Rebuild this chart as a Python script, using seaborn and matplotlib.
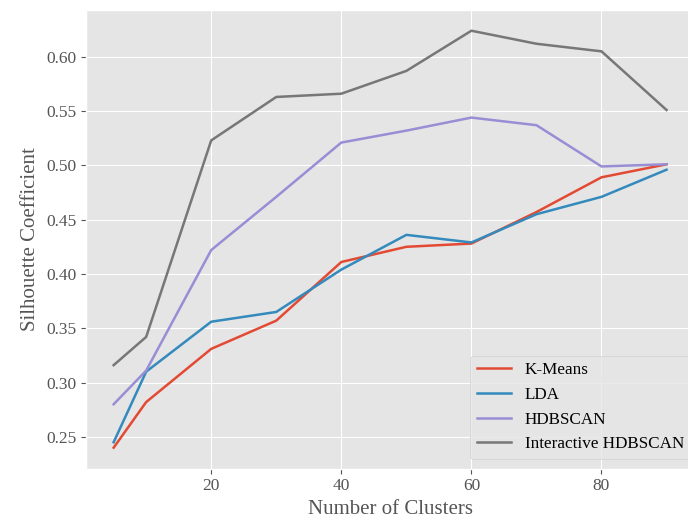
import pandas as pd
import seaborn as sns
import matplotlib.pyplot as plt

# dados
clusters = [5, 10, 20, 30, 40, 50, 60, 70, 80, 90]
kmeans = [0.240, 0.282, 0.331, 0.357, 0.411, 0.425, 0.428, 0.457, 0.489, 0.501]
lda = [0.245, 0.310, 0.356, 0.365, 0.404, 0.436, 0.429, 0.455, 0.471, 0.496]
hdbscan = [0.280, 0.311, 0.422, 0.471, 0.521, 0.532, 0.544, 0.537, 0.499, 0.501]
inter_hdbscan = [0.316, 0.342, 0.523, 0.563, 0.566, 0.587, 0.624, 0.612, 0.605, 0.551]
metodos = ["K-Means", "LDA", "HDBSCAN", "Interactive HDBSCAN"]

dados = pd.DataFrame({
    "clusters": clusters * 4,
    "score": kmeans + lda + hdbscan + inter_hdbscan,
    "metodo": [m for m in metodos for _ in clusters],
})

plt.style.use("ggplot")
plt.rcParams["font.family"] = ["Liberation Serif", "DejaVu Serif"]

fig = plt.figure(figsize=(6.88, 5.2), dpi=100)
# eixo um pouco cortado na direita, como na imagem original
ax = fig.add_axes([0.125, 0.099, 0.884, 0.882])
sns.lineplot(data=dados, x="clusters", y="score", hue="metodo",
             palette=["#E24A33", "#348ABD", "#988ED5", "#777777"],
             linewidth=1.8, ax=ax)

ax.set_xlabel("Number of Clusters", fontsize=15)
ax.set_ylabel("Silhouette Coefficient", fontsize=15)
ax.tick_params(labelsize=12.5)
ax.legend(title=None, loc="lower right", fontsize=12.3,
          bbox_to_anchor=(0.995, 0.021), borderaxespad=0)

plt.savefig("out.png")
